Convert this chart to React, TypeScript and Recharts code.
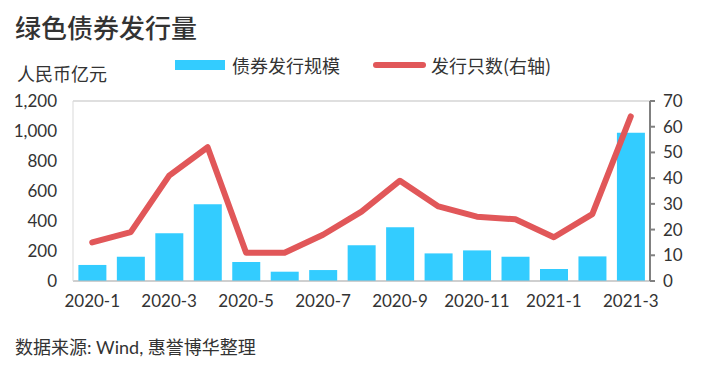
import { ComposedChart, Bar, Line, XAxis, YAxis, CartesianGrid } from 'recharts';

const months = [
  '2020-1', '2020-2', '2020-3', '2020-4', '2020-5', '2020-6', '2020-7', '2020-8',
  '2020-9', '2020-10', '2020-11', '2020-12', '2021-1', '2021-2', '2021-3',
];
const issueAmount = [107, 162, 318, 511, 127, 62, 73, 238, 358, 184, 204, 162, 80, 164, 989];
const issueCount = [15, 19, 41, 52, 11, 11, 18, 27, 39, 29, 25, 24, 17, 26, 64];
const leftTicks = [0, 200, 400, 600, 800, 1000, 1200];
const rightTicks = [0, 10, 20, 30, 40, 50, 60, 70];

const chartData = months.map((m, i) => ({ month: m, amount: issueAmount[i], count: issueCount[i] }));

const FONT = "Lato, 'Noto Sans CJK SC', sans-serif";
const CJK = "'Noto Sans CJK SC', sans-serif";
const BAR_COLOR = '#33CCFF';
const LINE_COLOR = '#E15759';

export default function App() {
  return (
    <div style={{ position: 'absolute', left: 0, top: 0, width: 711, height: 374, background: '#fff', fontFamily: FONT, color: '#333' }}>
      <div style={{ position: 'absolute', left: 15, top: 8, fontSize: 26, fontWeight: 500, fontFamily: CJK }}>
        绿色债券发行量
      </div>
      <div style={{ position: 'absolute', left: 17, top: 60, fontSize: 18, fontFamily: CJK }}>人民币亿元</div>

      <div style={{ position: 'absolute', left: 175, top: 52, display: 'flex', alignItems: 'center', fontSize: 18, fontFamily: CJK }}>
        <div style={{ width: 50, height: 10, background: BAR_COLOR, marginRight: 7 }} />
        <span>债券发行规模</span>
        <div style={{ width: 53, height: 6, background: LINE_COLOR, borderRadius: 3, marginLeft: 33, marginRight: 5 }} />
        <span>发行只数(右轴)</span>
      </div>

      <div style={{ position: 'absolute', left: 0, top: 0 }}>
        <ComposedChart width={711} height={374} data={chartData} margin={{ top: 101, right: 0, bottom: 63, left: 0 }} barCategoryGap="14%">
          <CartesianGrid vertical={false} stroke="#BFBFBF" />
          <XAxis
            dataKey="month"
            interval={1}
            tickLine={false}
            axisLine={{ stroke: '#BFBFBF' }}
            tick={{ fill: '#333', fontSize: 17, fontFamily: FONT }}
            tickMargin={8}
            height={30}
          />
          <YAxis
            yAxisId="left"
            orientation="left"
            width={73}
            domain={[0, 1200]}
            ticks={leftTicks}
            tickFormatter={(v: number) => v.toLocaleString('en-US')}
            axisLine={{ stroke: '#D9D9D9' }}
            tickLine={false}
            tickSize={0}
            tickMargin={16}
            tick={{ fill: '#333', fontSize: 17, fontFamily: FONT }}
          />
          <YAxis
            yAxisId="right"
            orientation="right"
            width={61}
            domain={[0, 70]}
            ticks={rightTicks}
            axisLine={{ stroke: '#808080', strokeWidth: 2 }}
            tickLine={{ stroke: '#808080', strokeWidth: 2 }}
            tickSize={5}
            tickMargin={8}
            tick={{ fill: '#333', fontSize: 17, fontFamily: FONT }}
          />
          <Bar yAxisId="left" dataKey="amount" fill={BAR_COLOR} isAnimationActive={false} />
          <Line
            yAxisId="right"
            dataKey="count"
            type="linear"
            stroke={LINE_COLOR}
            strokeWidth={6}
            dot={false}
            strokeLinecap="round"
            strokeLinejoin="round"
            isAnimationActive={false}
          />
        </ComposedChart>
      </div>

      <div style={{ position: 'absolute', left: 15, top: 333, fontSize: 18, fontFamily: FONT }}>
        数据来源: Wind, 惠誉博华整理
      </div>
    </div>
  );
}
